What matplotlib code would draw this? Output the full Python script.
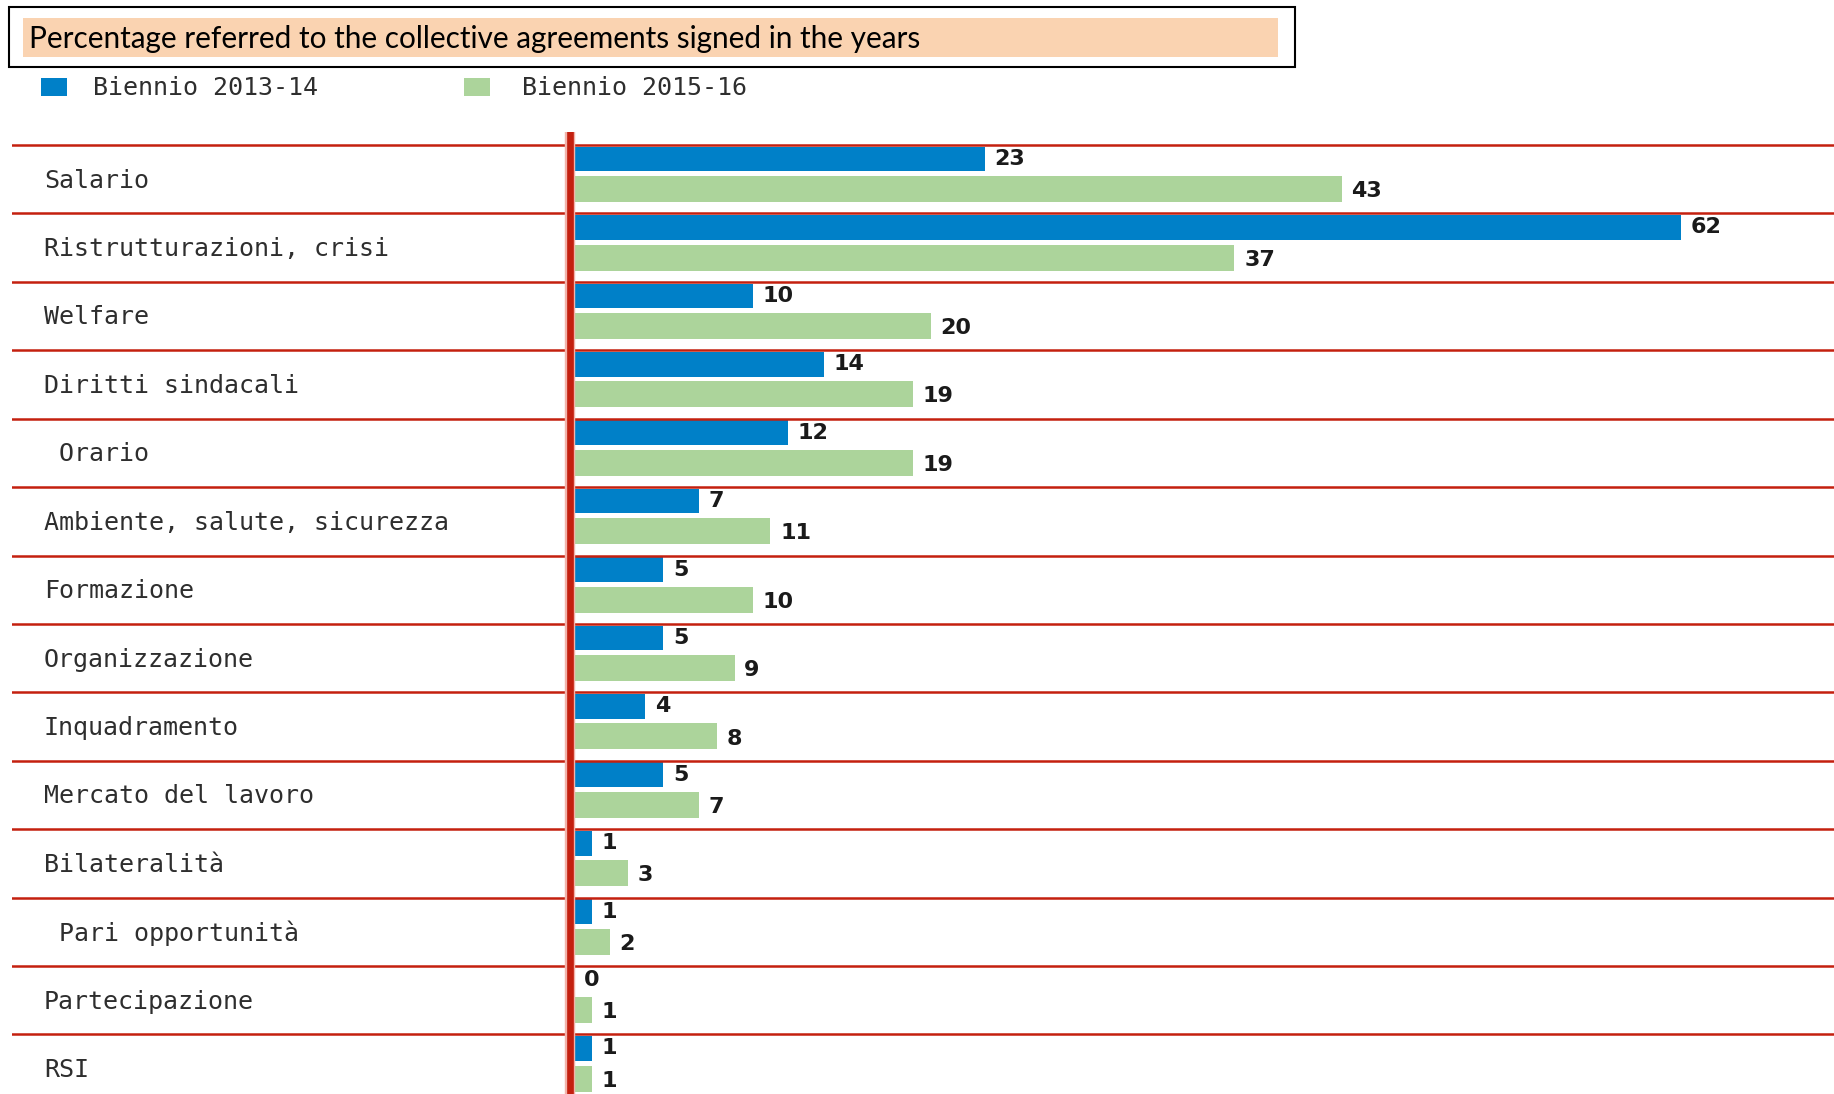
import matplotlib
matplotlib.use("Agg")
import matplotlib.pyplot as plt
from matplotlib.patches import Rectangle
from matplotlib.transforms import blended_transform_factory

categories = ["Salario", "Ristrutturazioni, crisi", "Welfare", "Diritti sindacali",
              " Orario", "Ambiente, salute, sicurezza", "Formazione", "Organizzazione",
              "Inquadramento", "Mercato del lavoro", "Bilateralità", " Pari opportunità",
              "Partecipazione", "RSI"]
biennio_2013_14 = [23, 62, 10, 14, 12, 7, 5, 5, 4, 5, 1, 1, 0, 1]
biennio_2015_16 = [43, 37, 20, 19, 19, 11, 10, 9, 8, 7, 3, 2, 1, 1]
series_labels = ["Biennio 2013-14", "Biennio 2015-16"]
title = "Percentage referred to the collective agreements signed in the years"

W, H = 1834, 1094
BLUE = "#0080c8"
GREEN = "#acd49b"
RED = "#c4200f"
PEACH = "#fad3b1"

fig = plt.figure(figsize=(W / 100, H / 100), dpi=100)

def fx(px):
    return px / W

def fy(py):
    return 1 - py / H

# main axes
x0_px = 574.0
ppu = 17.85  # pixels per unit
ax_left_px, ax_top_px = 12, 132
row_px = 68.42
line0_px = 145.0
ax = fig.add_axes([fx(ax_left_px), 0, fx(W) - fx(ax_left_px), fy(ax_top_px)])
ax.set_xlim(-(x0_px - ax_left_px) / ppu, (W - x0_px) / ppu)
ax.set_ylim((H - line0_px) / row_px, -(line0_px - ax_top_px) / row_px)
ax.axis("off")

n = len(categories)
ys = list(range(n))
blue_y = [y + 0.205 for y in ys]
green_y = [y + 0.645 for y in ys]

ax.barh(blue_y, biennio_2013_14, height=0.36, color=BLUE, zorder=3)
ax.barh(green_y, biennio_2015_16, height=0.38, color=GREEN, zorder=3)

for y in ys:
    ax.axhline(y, color=RED, lw=1.8, zorder=4)

ax.axvline(-0.25, color="#f2b3aa", lw=7.5, zorder=5)
ax.axvline(-0.25, color=RED, lw=4.8, zorder=6)

for yb, v in zip(blue_y, biennio_2013_14):
    ax.annotate(str(v), (v, yb), xytext=(7, 0), textcoords="offset points",
                va="center", ha="left", fontsize=16, fontweight="bold",
                color="#1a1a1a", family="DejaVu Sans")
for yg, v in zip(green_y, biennio_2015_16):
    ax.annotate(str(v), (v, yg + 0.03), xytext=(7, 0), textcoords="offset points",
                va="center", ha="left", fontsize=16, fontweight="bold",
                color="#1a1a1a", family="DejaVu Sans")

trans = blended_transform_factory(fig.transFigure, ax.transData)
for y, cat in zip(ys, categories):
    ax.text(fx(44), y + 0.52, cat, transform=trans, va="center", ha="left",
            fontsize=18, color="#2e2e2e", family="DejaVu Sans Mono")

# title box
fig.patches.append(Rectangle((fx(9), fy(67)), fx(1295) - fx(9), fy(7) - fy(67),
                             transform=fig.transFigure, facecolor="white",
                             edgecolor="black", lw=1.5))
fig.patches.append(Rectangle((fx(23), fy(57)), fx(1278) - fx(23), fy(18) - fy(57),
                             transform=fig.transFigure, facecolor=PEACH,
                             edgecolor="none"))
fig.text(fx(29), fy(39), title, va="center", ha="left", fontsize=21.4,
         color="black", family="Lato")

# legend
for (sx, tx), col, lab in zip([(41, 93), (464, 522)], [BLUE, GREEN], series_labels):
    fig.patches.append(Rectangle((fx(sx), fy(96)), fx(26), fy(78) - fy(96),
                                 transform=fig.transFigure, facecolor=col,
                                 edgecolor="none"))
    fig.text(fx(tx), fy(88), lab, va="center", ha="left", fontsize=18,
             color="#2e2e2e", family="DejaVu Sans Mono")

fig.savefig("out.png", dpi=100)
